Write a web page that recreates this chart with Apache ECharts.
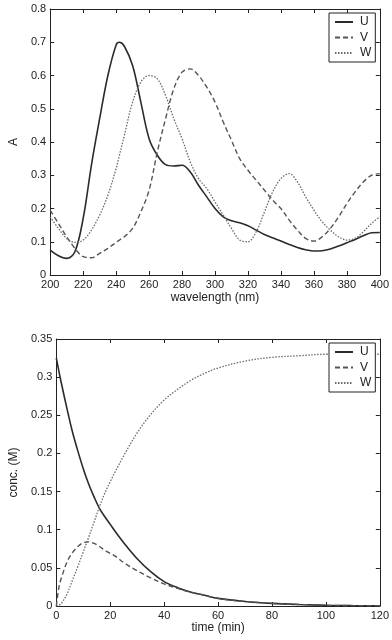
<!DOCTYPE html>
<html><head><meta charset="utf-8">
<script src="https://cdn.jsdelivr.net/npm/echarts@6/dist/echarts.min.js"></script>
<style>html,body{margin:0;padding:0;background:#fff}#c{width:392px;height:640px}</style>
</head><body><div id="c"></div>
<script>
// Top chart: absorbance spectra
const wavelength = [200,205,210,215,220,225,230,235,240,242,245,250,255,260,265,270,275,280,285,290,295,300,305,310,315,320,325,330,335,340,345,350,355,360,365,370,375,380,385,390,395,400];
const specU = [0.075,0.058,0.05,0.07,0.17,0.33,0.47,0.6,0.692,0.7,0.688,0.63,0.52,0.41,0.36,0.332,0.328,0.33,0.31,0.27,0.235,0.2,0.175,0.163,0.157,0.148,0.135,0.122,0.112,0.102,0.092,0.083,0.076,0.072,0.073,0.078,0.087,0.097,0.107,0.118,0.127,0.128];
const specV = [0.195,0.155,0.115,0.08,0.055,0.052,0.065,0.08,0.098,0.105,0.115,0.14,0.19,0.255,0.37,0.47,0.56,0.61,0.62,0.6,0.565,0.52,0.46,0.405,0.35,0.315,0.285,0.255,0.225,0.2,0.165,0.135,0.11,0.102,0.115,0.14,0.175,0.215,0.25,0.28,0.3,0.305];
const specW = [0.175,0.14,0.11,0.098,0.105,0.135,0.18,0.24,0.32,0.36,0.42,0.52,0.58,0.6,0.59,0.54,0.47,0.41,0.34,0.29,0.26,0.22,0.18,0.14,0.105,0.1,0.13,0.19,0.25,0.29,0.305,0.28,0.235,0.195,0.16,0.135,0.115,0.105,0.11,0.13,0.155,0.175];
// Bottom chart: concentrations over time
const timeMin = [0,1,2,4,6,8,10,12,14,16,18,20,22,25,30,35,40,45,50,55,60,70,80,90,100,110,120];
const concU = [0.325,0.307,0.29,0.258,0.228,0.203,0.18,0.16,0.143,0.128,0.117,0.107,0.097,0.083,0.062,0.045,0.032,0.024,0.018,0.014,0.010,0.006,0.0035,0.002,0.001,0.0005,0.0003];
const concV = [0.0,0.025,0.038,0.058,0.07,0.078,0.083,0.084,0.082,0.078,0.073,0.069,0.065,0.057,0.046,0.037,0.029,0.023,0.018,0.014,0.010,0.006,0.0035,0.002,0.001,0.0005,0.0003];
const concW = [0.0,0.001,0.004,0.016,0.034,0.052,0.071,0.09,0.11,0.13,0.148,0.163,0.177,0.197,0.227,0.251,0.27,0.284,0.296,0.305,0.312,0.321,0.326,0.328,0.33,0.33,0.33];
const seriesNames = ['U','V','W'];

const pair = (xs, ys) => xs.map((x,i)=>[x,ys[i]]);
const FONT = 'Liberation Sans, Arial, sans-serif';
const TXT = '#222';
const styles = [
  {color:'#2b2b2b', type:'solid', width:1.6},
  {color:'#555555', type:[5,3], width:1.4},
  {color:'#6a6a6a', type:[1.5,1.5], width:1.3}
];
function mkAxis(kind, gi, min, max, interval, pos, showLabel, name, nameGap) {
  return {
    type:'value', gridIndex:gi, min, max, interval, position:pos,
    name: name || '', nameLocation:'middle', nameGap: nameGap || 0,
    nameTextStyle:{color:TXT, fontFamily:FONT, fontSize:12},
    axisLine:{show:true, onZero:false, lineStyle:{color:'#222', width:1}},
    axisTick:{show:true, inside:true, length:4, lineStyle:{color:'#222'}},
    axisLabel:{show:showLabel, color:TXT, fontFamily:FONT, fontSize:11, margin:4,
      formatter: v => String(+v.toFixed(3))},
    splitLine:{show:false}
  };
}
const chart = echarts.init(document.getElementById('c'), null, {renderer:'canvas'});
const series = [];
[[specU,specV,specW],[concU,concV,concW]].forEach((set, gi) => {
  const xs = gi === 0 ? wavelength : timeMin;
  set.forEach((ys, k) => {
    series.push({
      type:'line', name:seriesNames[k], xAxisIndex:gi*2, yAxisIndex:gi*2,
      data: pair(xs, ys), showSymbol:false, symbol:'none', smooth:0.35,
      lineStyle:{color:styles[k].color, type:styles[k].type, width:styles[k].width},
      itemStyle:{color:styles[k].color}, silent:true, animation:false
    });
  });
});
function mkLegend(top) {
  return {
    data:seriesNames, orient:'vertical', left:329, top:top, width:48,
    backgroundColor:'#fff', borderColor:'#222', borderWidth:1, padding:[3,4,3,5],
    itemWidth:18, itemHeight:10, itemGap:3.5, selectedMode:false,
    itemStyle:{opacity:0, color:'transparent', borderWidth:0},
    textStyle:{color:TXT, fontFamily:FONT, fontSize:12, padding:[0,0,0,2]}
  };
}
chart.setOption({
  animation:false,
  backgroundColor:'#fff',
  grid:[
    {left:44, top:9, width:338, height:266},
    {left:44, top:339, width:338, height:267}
  ],
  legend:[mkLegend(13), mkLegend(343)],
  xAxis:[
    mkAxis('x',0,200,400,20,'bottom',true,'wavelength (nm)',17),
    mkAxis('x',0,200,400,20,'top',false),
    mkAxis('x',1,0,120,20,'bottom',true,'time (min)',16),
    mkAxis('x',1,0,120,20,'top',false)
  ],
  yAxis:[
    mkAxis('y',0,0,0.8,0.1,'left',true,'A',30),
    mkAxis('y',0,0,0.8,0.1,'right',false),
    mkAxis('y',1,0,0.35,0.05,'left',true,'conc. (M)',30),
    mkAxis('y',1,0,0.35,0.05,'right',false)
  ],
  series
});
</script></body></html>
